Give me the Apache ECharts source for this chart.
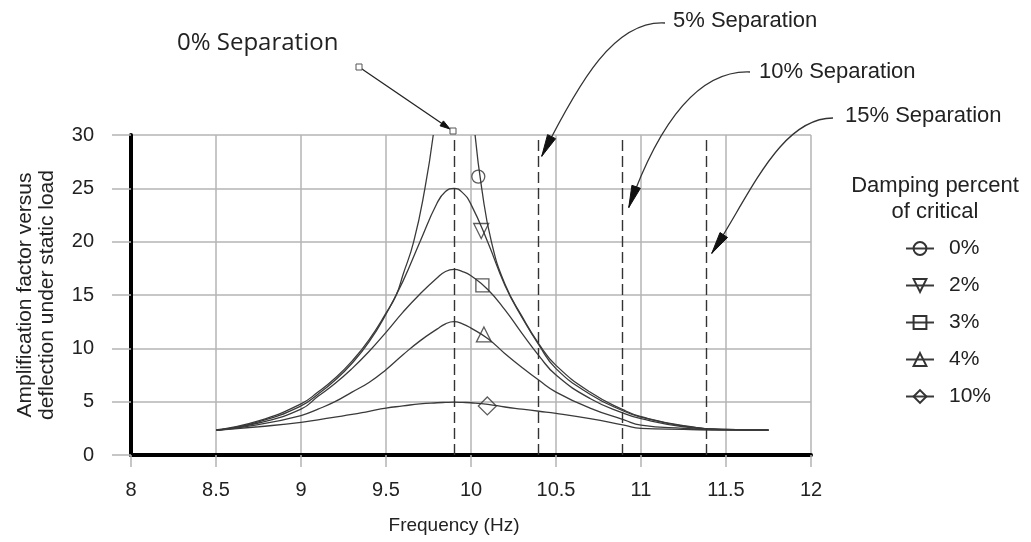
<!DOCTYPE html>
<html><head><meta charset="utf-8">
<script src="https://cdn.jsdelivr.net/npm/echarts@6/dist/echarts.min.js"></script>
<style>html,body{margin:0;padding:0;background:#fff}#c{width:1031px;height:542px}</style>
</head><body><div id="c"></div>
<script>
// ---- data ----
const xMin = 8, xMax = 12, xStep = 0.5;
const yMin = 0, yMax = 30, yStep = 5;
const dampingNames = ['0%', '2%', '3%', '4%', '10%'];

// shared frequency samples (Hz) for the damped curves
const freq = [8.5, 8.75, 9.0, 9.1, 9.2, 9.3, 9.4, 9.5, 9.6, 9.7, 9.8, 9.85, 9.9, 9.95, 10.0, 10.1, 10.2, 10.3, 10.4, 10.5, 10.7, 10.9, 11.0, 11.25, 11.5, 11.75];
const amp2  = [2.3, 3.1, 4.6, 5.7, 7.0, 8.6, 10.6, 13.2, 16.3, 20.0, 23.6, 24.7, 25.0, 24.6, 23.5, 19.9, 15.9, 12.9, 10.3, 8.1, 5.7, 4.1, 3.55, 2.7, 2.4, 2.34];
const amp3  = [2.3, 3.0, 4.3, 5.5, 6.7, 8.1, 9.7, 11.5, 13.4, 15.1, 16.6, 17.2, 17.4, 17.2, 16.8, 15.5, 13.6, 11.4, 9.3, 7.5, 5.3, 3.9, 3.4, 2.65, 2.38, 2.34];
const amp4  = [2.3, 2.85, 3.7, 4.3, 5.0, 5.9, 6.8, 8.0, 9.4, 10.7, 11.8, 12.3, 12.5, 12.3, 11.9, 10.9, 9.5, 8.2, 7.0, 5.9, 4.4, 3.3, 2.8, 2.5, 2.36, 2.34];
const amp10 = [2.3, 2.65, 3.05, 3.3, 3.55, 3.8, 4.1, 4.4, 4.6, 4.8, 4.9, 4.93, 4.95, 4.93, 4.9, 4.75, 4.5, 4.3, 4.1, 3.9, 3.4, 2.8, 2.5, 2.4, 2.33, 2.32];

// undamped (0%) curve: two branches, broken at resonance (null)
const freq0 = [8.5, 8.75, 9.0, 9.1, 9.2, 9.3, 9.4, 9.5, 9.56, 9.6, 9.663, 9.729, 9.778, 9.9, 10.024, 10.063, 10.12, 10.2, 10.3, 10.4, 10.5, 10.7, 10.9, 11.0, 11.25, 11.5, 11.75];
const amp0  = [2.35, 3.2, 4.8, 5.9, 7.2, 8.8, 10.8, 13.3, 15.0, 16.9, 20, 25, 30, null, 30, 25, 20, 16.0, 13.0, 10.4, 8.4, 5.9, 4.2, 3.6, 2.75, 2.4, 2.35];

// separation lines (Hz)
const sepFreqs = [9.9, 10.395, 10.89, 11.385];
const sepLabels = ['0% Separation', '5% Separation', '10% Separation', '15% Separation'];

// curve identification markers
const markerFreq = [10.043, 10.06, 10.067, 10.076, 10.096];
const markerAmp  = [26.1, 21.0, 15.9, 11.3, 4.6];

// ---- styling / layout ----
const FONT = '"Liberation Sans", Arial, sans-serif';
const curveColor = '#3a3a3a';
const gridColor = '#b4b4b4';
const symbols = ['circle', 'triangle', 'rect', 'triangle', 'diamond'];
const symbolRot = [0, 180, 0, 0, 0];
const markerSize = [13, 15, 13, 15, 18];

const curveSets = [[freq0, amp0], [freq, amp2], [freq, amp3], [freq, amp4], [freq, amp10]];

const series = curveSets.map((cs, k) => ({
  type: 'line',
  name: dampingNames[k],
  data: cs[0].map((x, i) => [x, cs[1][i] == null ? '-' : cs[1][i]]),
  smooth: 0.5,
  connectNulls: false,
  showSymbol: false,
  symbol: symbols[k],
  symbolRotate: symbolRot[k],
  lineStyle: { color: curveColor, width: 1.3 },
  itemStyle: { color: 'rgba(255,255,255,0)', borderColor: '#333', borderWidth: 1.2 },
  clip: true,
  silent: true,
  z: 3
}));

series.push({
  type: 'scatter',
  name: 'markers',
  data: markerFreq.map((x, i) => ({
    value: [x, markerAmp[i]],
    symbol: symbols[i],
    symbolRotate: symbolRot[i],
    symbolSize: markerSize[i]
  })),
  itemStyle: { color: 'rgba(255,255,255,0)', borderColor: '#333', borderWidth: 1.3 },
  silent: true,
  z: 4
});

series.push({
  type: 'line',
  name: 'separation',
  data: [],
  silent: true,
  markLine: {
    silent: true,
    symbol: 'none',
    label: { show: false },
    lineStyle: { color: '#333', width: 1.4, type: [11, 5] },
    data: sepFreqs.map(f => [{ coord: [f, yMin] }, { coord: [f, yMax] }])
  },
  z: 2
});

const chart = echarts.init(document.getElementById('c'), null, { renderer: 'canvas' });
chart.setOption({
  animation: false,
  backgroundColor: '#fff',
  grid: { left: 131, right: 220, top: 135, bottom: 87 },
  xAxis: {
    type: 'value', min: xMin, max: xMax, interval: xStep,
    name: 'Frequency (Hz)', nameLocation: 'middle', nameGap: 61,
    nameTextStyle: { fontSize: 19, color: '#222', fontFamily: FONT, padding: [0, 34, 0, 0] },
    axisLine: { show: true, onZero: false, lineStyle: { color: '#000', width: 4 } },
    axisTick: { show: true, length: 12, lineStyle: { color: gridColor, width: 1.5 } },
    splitLine: { show: true, lineStyle: { color: gridColor, width: 1.5 } },
    axisLabel: { fontSize: 20, color: '#222', margin: 25, fontFamily: FONT }
  },
  yAxis: {
    type: 'value', min: yMin, max: yMax, interval: yStep,
    name: 'Amplification factor versus\ndeflection under static load',
    nameLocation: 'middle', nameGap: 73, nameRotate: 90,
    nameTextStyle: { fontSize: 21, lineHeight: 22, color: '#222', fontFamily: FONT },
    axisLine: { show: true, onZero: false, lineStyle: { color: '#000', width: 4 } },
    axisTick: { show: true, length: 19, lineStyle: { color: gridColor, width: 1.5 } },
    splitLine: { show: true, lineStyle: { color: gridColor, width: 1.5 } },
    axisLabel: { fontSize: 20, color: '#222', margin: 37, fontFamily: FONT }
  },
  legend: {
    data: dampingNames,
    orient: 'vertical',
    left: 905, top: 238, padding: 0,
    itemWidth: 28, itemHeight: 16, itemGap: 16,
    textStyle: { fontSize: 21, color: '#222', fontFamily: FONT, padding: [0, 0, 0, 10] },
    selectedMode: false
  },
  series: series
});

// ---- annotations (anchored on the chart's coordinate system) ----
function P(x, y) { return chart.convertToPixel({ gridIndex: 0 }, [x, y]); }
function head(tip, from, len, w) {
  const dx = tip[0] - from[0], dy = tip[1] - from[1];
  const d = Math.hypot(dx, dy), ux = dx / d, uy = dy / d;
  const bx = tip[0] - ux * len, by = tip[1] - uy * len;
  return {
    type: 'polygon', silent: true, z: 20,
    shape: { points: [tip, [bx - uy * w / 2, by + ux * w / 2], [bx + uy * w / 2, by - ux * w / 2]] },
    style: { fill: '#111', stroke: '#111', lineWidth: 1 }
  };
}
function txt(s, x, y, font, align) {
  return {
    type: 'text', silent: true, z: 20,
    style: { text: s, x: x, y: y, font: font, fill: '#222',
      align: align || 'left', verticalAlign: 'middle',
      textAlign: align || 'left', textVerticalAlign: 'middle' }
  };
}
const g = [];
// legend title
g.push(txt('Damping percent', 935, 186, '22px ' + FONT, 'center'));
g.push(txt('of critical', 935, 212, '22px ' + FONT, 'center'));

// 0% separation: straight arrow
const top0 = P(sepFreqs[0], yMax);
const s0 = [359, 67];
const e0 = [top0[0] - 1, top0[1] - 4];
g.push(txt(sepLabels[0], 177, 43, '24px "Open Sans", sans-serif'));
g.push({ type: 'line', silent: true, z: 19, shape: { x1: s0[0], y1: s0[1], x2: e0[0] - 3, y2: e0[1] - 2 }, style: { stroke: '#222', lineWidth: 1.3 } });
g.push(head([e0[0] - 3, e0[1] - 2], s0, 10, 6));
[s0, e0].forEach(p => g.push({ type: 'rect', silent: true, z: 21, shape: { x: p[0] - 3, y: p[1] - 3, width: 6, height: 6 }, style: { fill: '#fff', stroke: '#555', lineWidth: 1 } }));

// curved arrows for 5/10/15 %
const tips = [P(10.416, 28.0), P(10.928, 23.2), P(11.416, 18.9)];
const textPos = [[673, 21], [759, 72], [845, 116]];
const curves = [
  [[665, 23], [615, 20], [580, 80]],
  [[750, 72], [700, 70], [660, 120]],
  [[833, 118], [780, 118], [750, 195]]
];
for (let k = 0; k < 3; k++) {
  const c = curves[k], t = tips[k];
  g.push(txt(sepLabels[k + 1], textPos[k][0], textPos[k][1], '22px ' + FONT));
  g.push({ type: 'bezierCurve', silent: true, z: 19,
    shape: { x1: c[0][0], y1: c[0][1], cpx1: c[1][0], cpy1: c[1][1], cpx2: c[2][0], cpy2: c[2][1], x2: t[0], y2: t[1] },
    style: { stroke: '#333', lineWidth: 1.3, fill: null } });
  g.push(head(t, c[2], 22, 9));
}
chart.setOption({ graphic: g });
</script>
</body></html>
